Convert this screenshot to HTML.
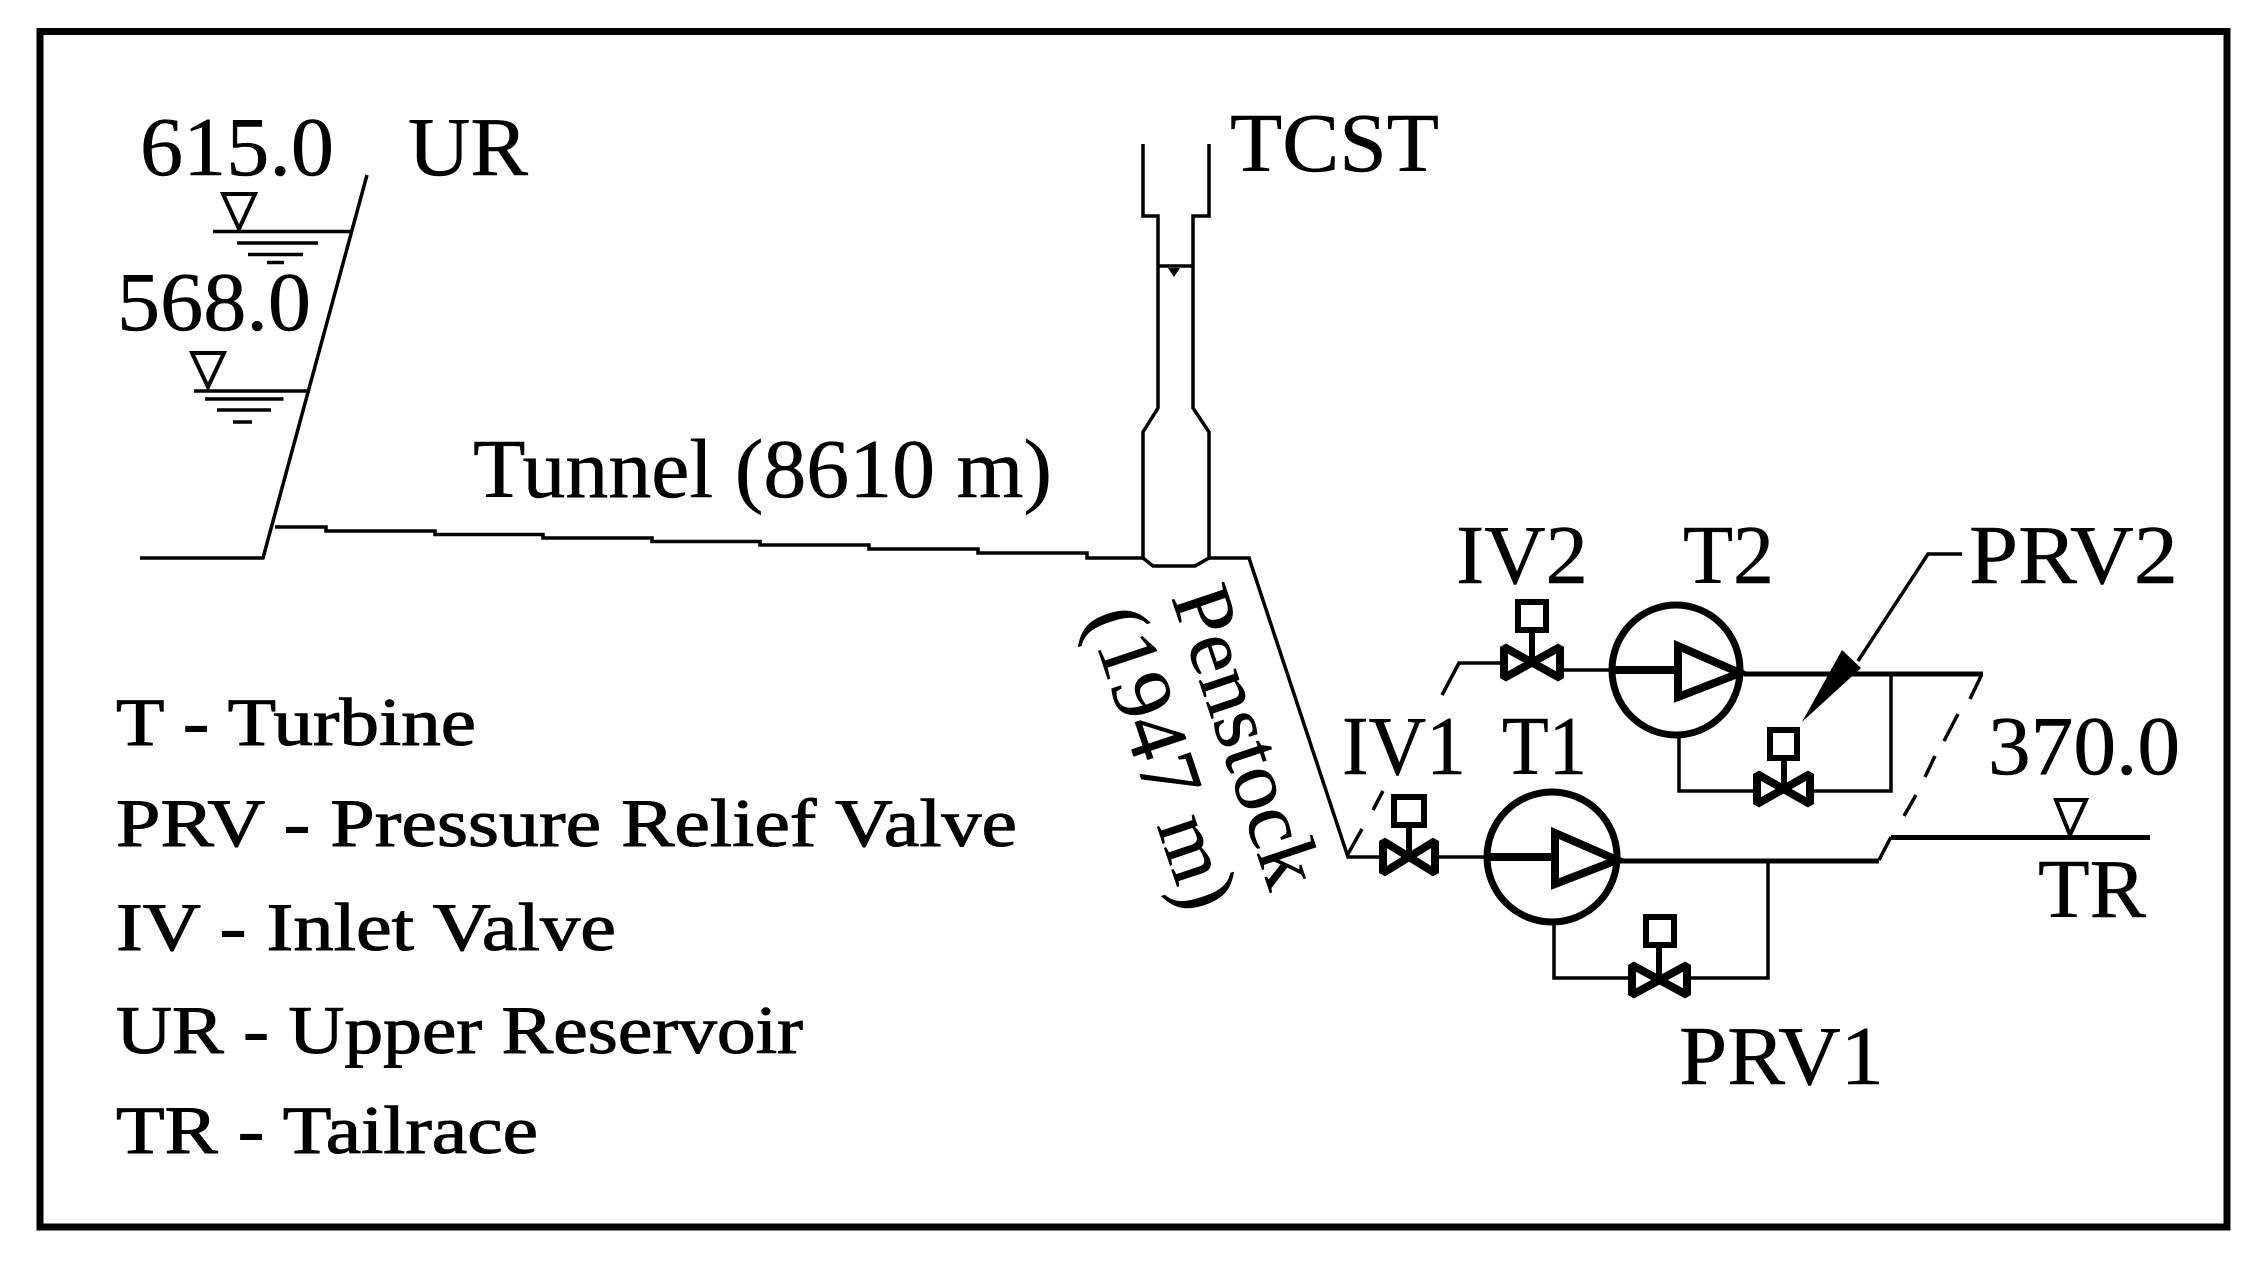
<!DOCTYPE html>
<html>
<head>
<meta charset="utf-8">
<style>
html,body{margin:0;padding:0;background:#fff;}
svg{display:block;}
text{font-family:"Liberation Serif",serif;fill:#000;}
.l{font-size:84px;stroke:#000;stroke-width:.5px;}
.k{font-size:68px;stroke:#000;stroke-width:1px;}
</style>
</head>
<body>
<svg width="2266" height="1264" viewBox="0 0 2266 1264" xmlns="http://www.w3.org/2000/svg">
<rect width="2266" height="1264" fill="#fff"/>
<rect x="40" y="31.5" width="2187" height="1195.5" fill="none" stroke="#000" stroke-width="7"/>

<g fill="none" stroke="#000" stroke-width="3.5" stroke-linejoin="miter">
  <!-- Upper reservoir -->
  <polyline points="140,558 263,558 367,175"/>
  <line x1="213" y1="231.5" x2="353" y2="231.5"/>
  <line x1="237" y1="243" x2="318" y2="243"/>
  <line x1="248" y1="254.5" x2="303" y2="254.5"/>
  <line x1="267" y1="262.5" x2="284" y2="262.5"/>
  <polygon points="223,194 255,194 239,229" stroke-width="4"/>
  <line x1="194" y1="391" x2="310" y2="391"/>
  <line x1="205" y1="399" x2="283.5" y2="399"/>
  <line x1="217" y1="410" x2="271" y2="410"/>
  <line x1="233" y1="422" x2="252" y2="422"/>
  <polygon points="192,353 224,353 208,387" stroke-width="4"/>
  <!-- Tunnel -->
  <polyline points="275,527 326,527 326,531 435,531 435,534.5 543,534.5 543,538 652,538 652,541.5 760,541.5 760,545 869,545 869,549 978,549 978,553 1087,553 1087,558 1143,558"/>
  <!-- Surge tank -->
  <polyline points="1143,144 1143,216 1158,216 1158,408 1143,432 1143,558 1153,566 1195,566 1209,558 1209,432 1193,408 1193,216 1209,216 1209,144"/>
  <line x1="1158" y1="266" x2="1193" y2="266"/>
  <!-- Penstock -->
  <polyline points="1209,558 1249,558 1348,857 1379,857"/>
  <!-- Branch to IV2 -->
  <line x1="1348" y1="854" x2="1362" y2="829"/>
  <line x1="1373" y1="810" x2="1383" y2="791"/>
  <polyline points="1442,695 1459,663 1500,663"/>
  <line x1="1564" y1="670" x2="1611" y2="670"/>
  <line x1="1439" y1="857" x2="1485" y2="857"/>
  <!-- Tailrace break line -->
  <line x1="1981" y1="676" x2="1970" y2="699"/>
  <line x1="1958" y1="714" x2="1944" y2="741"/>
  <line x1="1935" y1="756" x2="1925" y2="777"/>
  <line x1="1916" y1="795" x2="1904" y2="816"/>
  <line x1="1891" y1="837" x2="1879" y2="860"/>
  <polygon points="2056,800 2086,800 2070,835" stroke-width="4"/>
  <!-- Bypass T2 -->
  <polyline points="1679,735 1679,791 1753,791"/>
  <polyline points="1814,791 1891,791 1891,674"/>
  <!-- Bypass T1 -->
  <polyline points="1554,923 1554,978 1628,978"/>
  <polyline points="1691,978 1768,978 1768,861"/>
  <!-- Leader -->
  <polyline points="1962,554 1928,554 1858,661"/>
</g>

<polygon points="1168,268 1180,268 1174,277" fill="#000"/>
<g fill="none" stroke="#000" stroke-width="5">
  <line x1="1744" y1="674" x2="1983" y2="674"/>
  <line x1="1620" y1="861" x2="1879" y2="861"/>
  <line x1="1891" y1="837.5" x2="2150" y2="837.5"/>
</g>

<!-- T2 -->
<g fill="none" stroke="#000">
  <ellipse cx="1676" cy="670" rx="64" ry="65" stroke-width="7"/>
  <line x1="1611" y1="670" x2="1676" y2="670" stroke-width="8"/>
  <polygon points="1678,646 1678,697 1740,673" stroke-width="8" fill="#fff"/>
</g>
<!-- T1 -->
<g fill="none" stroke="#000">
  <ellipse cx="1552" cy="857" rx="65" ry="65" stroke-width="7"/>
  <line x1="1487" y1="857" x2="1553" y2="857" stroke-width="8"/>
  <polygon points="1555,833 1555,884 1617,860" stroke-width="8" fill="#fff"/>
</g>

<!-- Valves -->
<g fill="#fff" stroke="#000" stroke-width="8" stroke-linejoin="bevel">
  <polygon points="1504,647 1504,678 1560,647 1560,678"/>
  <polygon points="1757,774 1757,804 1810,774 1810,804"/>
  <polygon points="1383,841 1383,873 1435,841 1435,873"/>
  <polygon points="1632,965 1632,995 1687,965 1687,995"/>
</g>
<g fill="#fff" stroke="#000" stroke-width="6">
  <line x1="1532" y1="632" x2="1532" y2="663"/>
  <rect x="1518" y="602" width="28" height="28"/>
  <line x1="1784" y1="760" x2="1784" y2="790"/>
  <rect x="1770" y="730" width="27" height="28"/>
  <line x1="1409" y1="827" x2="1409" y2="856"/>
  <rect x="1394" y="797" width="30" height="28"/>
  <line x1="1659" y1="947" x2="1659" y2="978"/>
  <rect x="1646" y="917" width="28" height="28"/>
</g>

<!-- Arrowhead -->
<polygon points="1802,722 1842,650 1861,668" fill="#000"/>

<!-- Labels -->
<text class="l" x="140" y="175" textLength="194" lengthAdjust="spacingAndGlyphs">615.0</text>
<text class="l" x="408" y="175" textLength="120" lengthAdjust="spacingAndGlyphs">UR</text>
<text class="l" x="117" y="330" textLength="194" lengthAdjust="spacingAndGlyphs">568.0</text>
<text class="l" x="473" y="497" textLength="579" lengthAdjust="spacingAndGlyphs">Tunnel (8610 m)</text>
<text class="l" x="1230" y="171" textLength="209" lengthAdjust="spacingAndGlyphs">TCST</text>
<text class="l" x="1456" y="583" textLength="132" lengthAdjust="spacingAndGlyphs">IV2</text>
<text class="l" x="1683" y="583" textLength="91" lengthAdjust="spacingAndGlyphs">T2</text>
<text class="l" x="1969" y="583" textLength="209" lengthAdjust="spacingAndGlyphs">PRV2</text>
<text class="l" x="1342" y="774" textLength="124" lengthAdjust="spacingAndGlyphs">IV1</text>
<text class="l" x="1502" y="774" textLength="85" lengthAdjust="spacingAndGlyphs">T1</text>
<text class="l" x="1988" y="774" textLength="192" lengthAdjust="spacingAndGlyphs">370.0</text>
<text class="l" x="2038" y="917" textLength="108" lengthAdjust="spacingAndGlyphs">TR</text>
<text class="l" x="1679" y="1084" textLength="205" lengthAdjust="spacingAndGlyphs">PRV1</text>

<text class="l" transform="translate(1171,597) rotate(71.5)" textLength="312" lengthAdjust="spacingAndGlyphs">Penstock</text>
<text class="l" transform="translate(1087,617) rotate(71.5)" textLength="314" lengthAdjust="spacingAndGlyphs">(1947 m)</text>

<!-- Legend -->
<text class="k" x="116" y="745" textLength="360" lengthAdjust="spacingAndGlyphs">T - Turbine</text>
<text class="k" x="116" y="846" textLength="901" lengthAdjust="spacingAndGlyphs">PRV - Pressure Relief Valve</text>
<text class="k" x="116" y="950" textLength="500" lengthAdjust="spacingAndGlyphs">IV - Inlet Valve</text>
<text class="k" x="116" y="1053" textLength="687" lengthAdjust="spacingAndGlyphs">UR - Upper Reservoir</text>
<text class="k" x="116" y="1153" textLength="422" lengthAdjust="spacingAndGlyphs">TR - Tailrace</text>
</svg>
</body>
</html>
